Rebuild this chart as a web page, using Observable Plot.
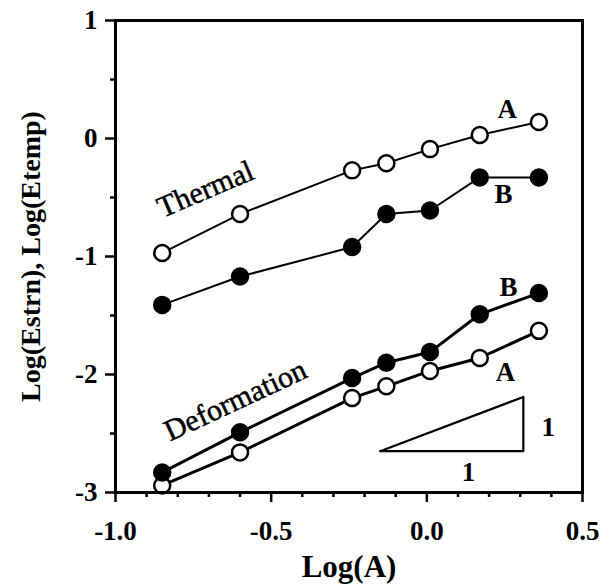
<!DOCTYPE html>
<html>
<head>
<meta charset="utf-8">
<script src="https://cdn.jsdelivr.net/npm/d3@7"></script>
<script src="https://cdn.jsdelivr.net/npm/@observablehq/plot@0.6"></script>
<style>
  html, body { margin: 0; padding: 0; background: #fff; }
  #chart svg { display: block; }
</style>
</head>
<body>
<div id="chart"></div>
<script>
// Data
const logA = [-0.85, -0.60, -0.24, -0.13, 0.01, 0.17, 0.36];
const thermalA = [-0.97, -0.64, -0.27, -0.21, -0.09, 0.03, 0.14];
const thermalB = [-1.41, -1.17, -0.92, -0.64, -0.61, -0.33, -0.33];
const deformA = [-2.94, -2.66, -2.20, -2.10, -1.97, -1.86, -1.63];
const deformB = [-2.83, -2.49, -2.03, -1.90, -1.81, -1.49, -1.31];

const xTicks = [-1.0, -0.5, 0.0, 0.5];
const xTickLabels = ["-1.0", "-0.5", "0.0", "0.5"];
const xMinor = [-0.9, -0.8, -0.7, -0.6, -0.4, -0.3, -0.2, -0.1, 0.1, 0.2, 0.3, 0.4];
const yTicks = [-3, -2, -1, 0, 1];
const yMinor = [-2.5, -1.5, -0.5, 0.5];

// slope-1 triangle
const triX = [-0.15, 0.31, 0.31, -0.15];
const triY = [-2.65, -2.65, -2.19, -2.65];

// annotations
const seriesLabels = [
  {x: 0.258, y: 0.25, t: "A"},
  {x: 0.246, y: -0.47, t: "B"},
  {x: 0.262, y: -1.26, t: "B"},
  {x: 0.253, y: -1.98, t: "A"}
];
const groupLabels = [
  {x: -0.711, y: -0.43, t: "Thermal", r: -23},
  {x: -0.615, y: -2.22, t: "Deformation", r: -25}
];
const triLabels = [
  {x: 0.39, y: -2.45, t: "1"},
  {x: 0.134, y: -2.83, t: "1"}
];

const series = [
  {name: "thermalA", y: thermalA, open: true, w: 2},
  {name: "thermalB", y: thermalB, open: false, w: 2},
  {name: "deformA", y: deformA, open: true, w: 3},
  {name: "deformB", y: deformB, open: false, w: 3}
];
const rows = series.flatMap(s => logA.map((x, i) => ({series: s.name, x, y: s.y[i], open: s.open, w: s.w})));

const font = "'Liberation Serif', 'DejaVu Serif', serif";

const marks = [];
for (const s of series) {
  const d = rows.filter(r => r.series === s.name);
  marks.push(Plot.line(d, {x: "x", y: "y", stroke: "black", strokeWidth: s.w}));
}
for (const s of series) {
  const d = rows.filter(r => r.series === s.name);
  marks.push(Plot.dot(d, {x: "x", y: "y", r: 8, fill: s.open ? "white" : "black", stroke: "black", strokeWidth: 2.5}));
}

const chart = Plot.plot({
  width: 614,
  height: 586,
  marginLeft: 115,
  marginRight: 32,
  marginTop: 20,
  marginBottom: 94,
  style: {fontFamily: font, background: "white", color: "black"},
  x: {domain: [-1, 0.5]},
  y: {domain: [-3, 1]},
  marks: [
    Plot.line(triX.map((x, i) => ({x, y: triY[i]})), {x: "x", y: "y", stroke: "black", strokeWidth: 2.2}),
    ...marks,
    Plot.text(seriesLabels, {x: "x", y: "y", text: "t", fontSize: 27, fontWeight: "bold", fill: "black"}),
    Plot.text(groupLabels, {x: "x", y: "y", text: "t", rotate: "r", fontSize: 30, fill: "black", stroke: "black", strokeWidth: 0.5}),
    Plot.text(triLabels, {x: "x", y: "y", text: "t", fontSize: 27, fontWeight: "bold", fill: "black"}),
    Plot.axisX({ticks: xMinor, tickSize: 5, strokeWidth: 2.5, text: null, label: null}),
    Plot.axisX({ticks: xTicks, tickSize: 10, strokeWidth: 2.5, tickPadding: 18, tickFormat: (d, i) => xTickLabels[i], fontSize: 27, fontWeight: "bold", label: null}),
    Plot.axisY({ticks: yMinor, tickSize: 5, strokeWidth: 2.5, text: null, label: null}),
    Plot.axisY({ticks: yTicks, tickSize: 10, strokeWidth: 2.5, tickPadding: 8, tickFormat: d => String(d).replace("−", "-"), fontSize: 27, fontWeight: "bold", label: null}),
    Plot.frame({stroke: "black", strokeWidth: 3}),
    Plot.text(["Log(A)"], {frameAnchor: "bottom", dy: 75, lineAnchor: "middle", textAnchor: "middle", fontSize: 31, fontWeight: "bold", fill: "black"}),
    Plot.text(["Log(Estrn), Log(Etemp)"], {frameAnchor: "left", dx: -84, rotate: -90, lineAnchor: "middle", textAnchor: "middle", fontSize: 28, fontWeight: "bold", fill: "black"})
  ]
});
document.getElementById("chart").appendChild(chart);
</script>
</body>
</html>
